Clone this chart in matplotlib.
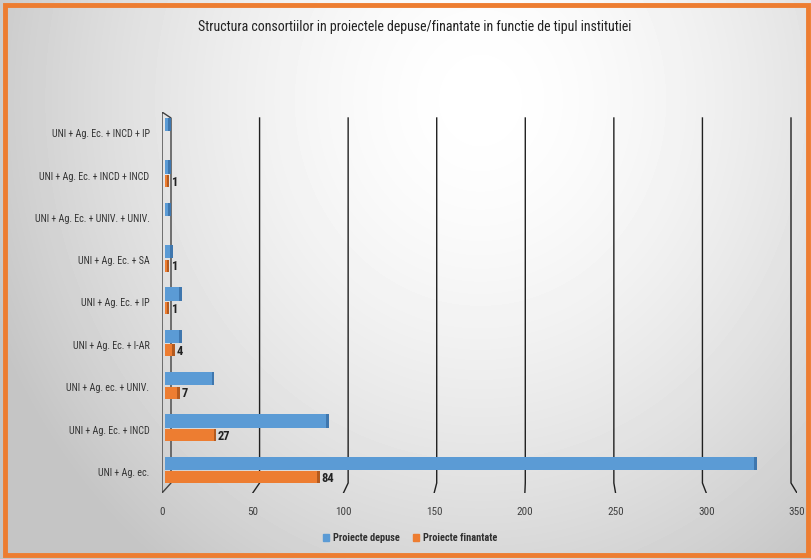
import numpy as np
import matplotlib
matplotlib.use('Agg')
import matplotlib.pyplot as plt
from matplotlib.patches import Rectangle, Patch
from matplotlib import font_manager

# alegem un font ingust, daca exista
instalate = {f.name for f in font_manager.fontManager.ttflist}
candidati = ['Liberation Sans Narrow', 'DejaVu Sans Condensed', 'Roboto Condensed',
             'Open Sans Condensed', 'Liberation Sans']
font = next((c for c in candidati if c in instalate), 'DejaVu Sans')
plt.rcParams['font.family'] = [font, 'DejaVu Sans']

# date
categorii = ['UNI + Ag. ec.', 'UNI + Ag. Ec. + INCD', 'UNI + Ag. ec. + UNIV.',
             'UNI + Ag. Ec. + I-AR', 'UNI + Ag. Ec. + IP', 'UNI + Ag. Ec. + SA',
             'UNI + Ag. Ec. + UNIV. + UNIV.', 'UNI + Ag. Ec. + INCD + INCD',
             'UNI + Ag. Ec. + INCD + IP']
depuse = [325, 89, 26, 8, 8, 3, 2, 2, 2]
finantate = [84, 27, 7, 4, 1, 1, 0, 1, 0]
x_ticks = [0, 50, 100, 150, 200, 250, 300, 350]

albastru = '#5B9BD5'
albastru_inchis = '#3F77AE'
portocaliu = '#ED7D31'
portocaliu_inchis = '#B35A1F'

W, H = 811, 559
fig = plt.figure(figsize=(W / 100, H / 100), dpi=100)

# fundal cu gradient
bg = fig.add_axes([0, 0, 1, 1])
yy, xx = np.mgrid[0:H, 0:W]
r = np.sqrt(((xx - 480) / 470.0) ** 2 + ((yy - 100) / 520.0) ** 2)
val = np.clip(1.0 - 0.19 * r ** 1.6, 0.77, 1.0)
bg.imshow(val, cmap='gray', vmin=0, vmax=1, aspect='auto', extent=[0, W, H, 0])
bg.set_xlim(0, W)
bg.set_ylim(H, 0)
bg.axis('off')
bg.add_patch(Rectangle((5, 5), W - 8, H - 9, fill=False, edgecolor=portocaliu, linewidth=3.5))

# axa principala
left, right, top, bottom = 162, 797, 112, 493
ax = fig.add_axes([left / W, (H - bottom) / H, (right - left) / W, (bottom - top) / H])
ax.set_facecolor('none')
ax.set_xlim(0, 350)
ax.set_ylim(-0.5, len(categorii) - 0.5)
for s in ax.spines.values():
    s.set_visible(False)

pxu = (right - left) / 350.0          # pixeli pe unitate
pyu = (bottom - top) / len(categorii)  # pixeli pe categorie
y_top = len(categorii) - 0.5
y_back_top = y_top - 6 / pyu
y_back_bot = -0.5 + 10 / pyu

# linii de grila (perete din spate) cu proiectie spre fata
for v in x_ticks:
    off = (9 - 15 * v / 350.0) / pxu
    xb = v + off
    if v == 0:
        ax.plot([0, xb, xb, 0, 0], [y_top, y_back_top, y_back_bot, -0.5, y_top],
                color='#404040', lw=1.0, zorder=1)
    else:
        ax.plot([xb, xb, v], [y_back_top, y_back_bot, -0.5], color='#202020', lw=1.0, zorder=1)

y = np.arange(len(categorii))
cap = 1.4
x0 = 1.5
ax.barh(y + 0.2, depuse, left=x0, height=0.32, color=albastru, zorder=3)
ax.barh(y + 0.2, [cap] * len(y), left=np.array(depuse) + x0, height=0.32, color=albastru_inchis, zorder=3)
fin = np.array(finantate)
m = fin > 0
ax.barh(y[m] - 0.13, fin[m], left=x0, height=0.28, color=portocaliu, zorder=3)
ax.barh(y[m] - 0.13, [cap] * m.sum(), left=fin[m] + x0, height=0.28, color=portocaliu_inchis, zorder=3)
for yi, v in zip(y[m], fin[m]):
    ax.text(v + x0 + cap + 1.0, yi - 0.16, str(v), ha='left', va='center',
            fontsize=9, fontweight='bold', color='#222222', zorder=4)

ax.set_yticks(y)
ax.set_yticklabels(categorii, fontsize=7.2, color='#333333')
ax.set_xticks(x_ticks)
ax.set_xticklabels([str(t) for t in x_ticks], fontsize=8, color='#404040')
ax.tick_params(axis='y', length=0, pad=9)
ax.tick_params(axis='x', length=0, pad=10)

fig.text(415 / W, 1 - 27 / H, 'Structura consortiilor in proiectele depuse/finantate in functie de tipul institutiei',
         ha='center', va='center', fontsize=10, color='#222222')

# legenda
handles = [Patch(color=albastru, label='Proiecte depuse'), Patch(color=portocaliu, label='Proiecte finantate')]
leg = fig.legend(handles=handles, loc='center', bbox_to_anchor=(410 / W, 1 - 538 / H), ncol=2,
                 frameon=False, fontsize=7.5, handlelength=0.6, handleheight=0.6,
                 handletextpad=0.4, columnspacing=1.2)
for t in leg.get_texts():
    t.set_fontweight('bold')
    t.set_color('#303030')

fig.savefig('out.png', dpi=100)
